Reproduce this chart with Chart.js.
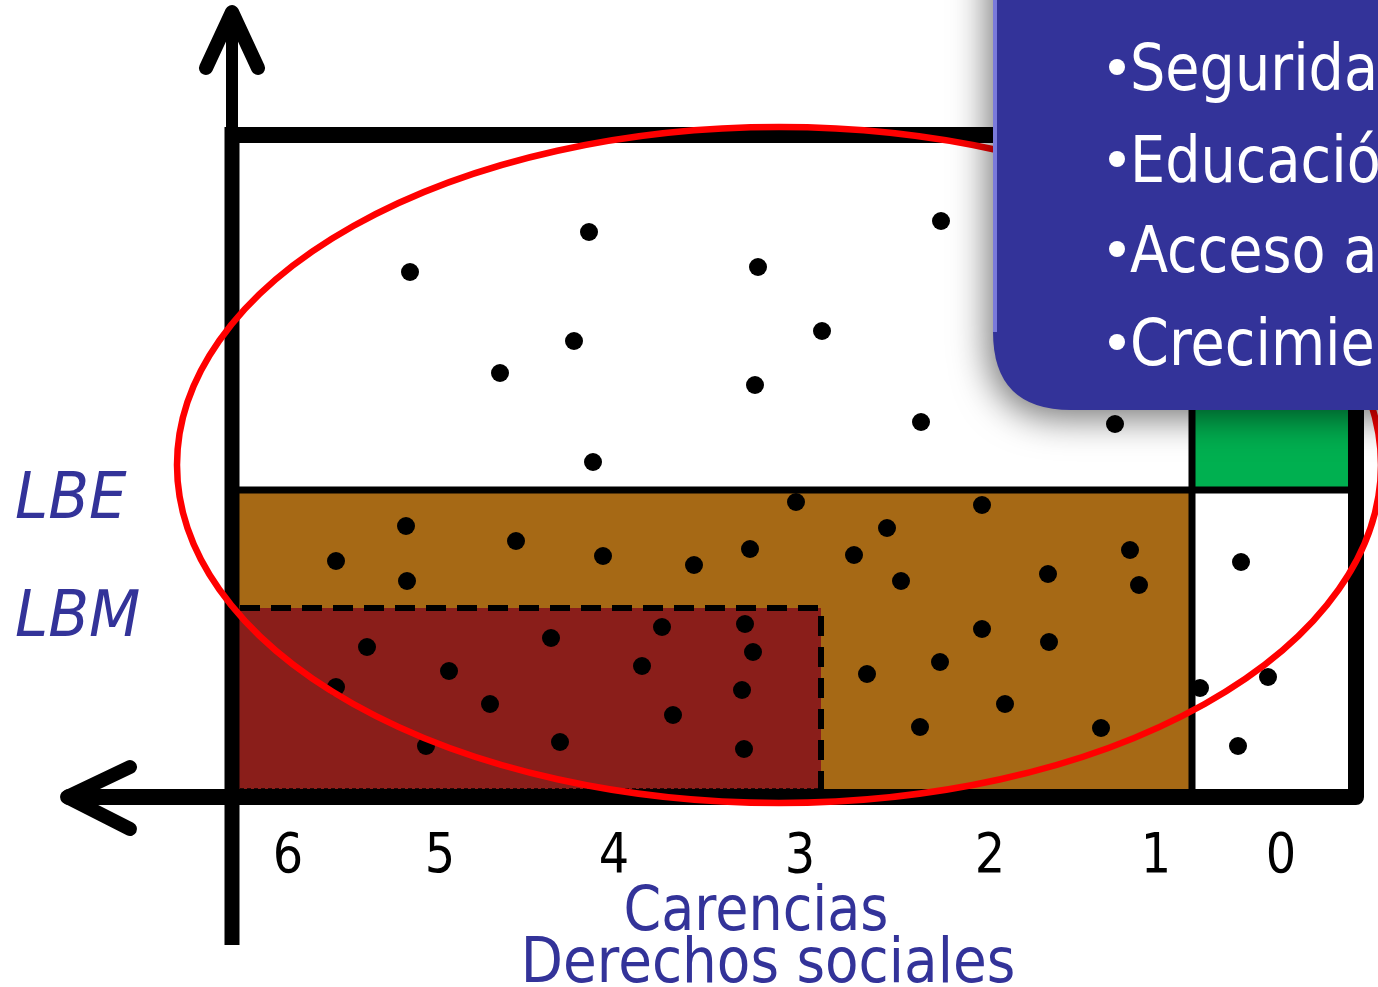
<!DOCTYPE html>
<html>
<head>
<meta charset="utf-8">
<title>Medición de la pobreza</title>
<script src="https://cdn.jsdelivr.net/npm/chart.js@4.4.1/dist/chart.umd.min.js"></script>
<style>
html,body{margin:0;padding:0;background:#fff;overflow:hidden;}
</style>
</head>
<body>
<canvas id="pobrezaChart" width="1378" height="987"></canvas>
<script>
// --- datos del diagrama (x: posición en el eje de carencias, y: ingreso) ---
const carenciaLabels = ['6', '5', '4', '3', '2', '1', '0'];
const carenciaTickPos = [5.6, 20.8, 38.2, 56.8, 75.8, 92.4, 104.9];
const lineaLabels = ['LBE', 'LBM'];
const lineaValores = [30.7, 18.9];
const umbralCarencias = 96.0;      // entre 1 y 0 carencias
const umbralExtrema = 58.9;        // 3 carencias
const xRange = [0, 112.4];
const yRange = [0, 66.2];
const axisTitle = ['Carencias', 'Derechos sociales'];
const boxItems = ['Seguridad', 'Educación', 'Acceso a', 'Crecimiento'];

const vulnerablesCarencias = [[35.7,56.5],[17.8,52.5],[52.6,53.0],[70.9,57.6],[59.0,46.6],[34.2,45.6],[26.8,42.4],[52.3,41.2],[68.9,37.5],[88.3,37.3],[36.1,33.5]];
const pobrezaModerada = [[56.4,29.5],[75.0,29.2],[17.4,27.1],[65.5,26.9],[28.4,25.6],[10.4,23.6],[37.1,24.1],[46.2,23.2],[51.8,24.8],[62.2,24.2],[89.8,24.7],[17.5,21.6],[66.9,21.6],[81.6,22.3],[90.7,21.2],[75.0,16.8],[81.7,15.5],[63.5,12.3],[70.8,13.5],[77.3,9.3],[68.8,7.0],[86.9,6.9]];
const pobrezaExtrema = [[13.5,15.0],[10.4,11.0],[19.4,5.1],[21.7,12.6],[25.8,9.3],[31.9,15.9],[32.8,5.5],[41.0,13.1],[43.0,17.0],[44.1,8.2],[51.3,17.3],[52.1,14.5],[51.0,10.7],[51.2,4.8]];
const vulnerablesIngreso = [[100.9,23.5],[103.6,12.0],[100.6,5.1],[96.8,10.9]];

const toPoints = arr => arr.map(p => ({ x: p[0], y: p[1] }));

(function(){
	const FONT = '"DejaVu Sans", Verdana, sans-serif';
	const BLUE = '#333399';

	function drawText(ctx, text, x, y, opts){
		ctx.save();
		ctx.translate(x, y);
		ctx.scale(opts.sx || 0.87, 1);
		ctx.font = opts.font;
		ctx.fillStyle = opts.color;
		ctx.textAlign = opts.align || 'left';
		ctx.textBaseline = opts.baseline || 'alphabetic';
		ctx.fillText(text, 0, 0);
		ctx.restore();
	}

	function line(ctx, pts, width, cap){
		ctx.beginPath();
		ctx.moveTo(pts[0][0], pts[0][1]);
		for (let i = 1; i < pts.length; i++) ctx.lineTo(pts[i][0], pts[i][1]);
		ctx.lineWidth = width;
		ctx.lineCap = cap || 'butt';
		ctx.lineJoin = 'round';
		ctx.strokeStyle = '#000';
		ctx.stroke();
	}

	// regiones, marco y ejes (debajo de los puntos)
	const diagramPlugin = {
		id: 'diagram',
		beforeDatasetsDraw(chart){
			const { ctx, scales: { x, y } } = chart;
			const px = v => x.getPixelForValue(v);
			const py = v => y.getPixelForValue(v);
			const [x0, x1] = xRange, [y0, y1] = yRange;
			ctx.save();

			// pobreza moderada
			ctx.fillStyle = '#A66915';
			ctx.fillRect(px(x0), py(lineaValores[0]), px(umbralCarencias) - px(x0), py(y0) - py(lineaValores[0]));
			// pobreza extrema
			ctx.fillStyle = '#8A1E1A';
			ctx.fillRect(px(x0), py(lineaValores[1]), px(umbralExtrema) - px(x0), py(y0) - py(lineaValores[1]));
			// no pobre y no vulnerable
			ctx.fillStyle = '#00B050';
			ctx.fillRect(px(umbralCarencias), py(y1), px(x1) - px(umbralCarencias), py(lineaValores[0]) - py(y1));

			// borde punteado de pobreza extrema
			ctx.setLineDash([20, 11]);
			line(ctx, [[px(x0 + 0.8), py(lineaValores[1])], [px(umbralExtrema), py(lineaValores[1])], [px(umbralExtrema), py(y0 + 0.8)]], 6);
			ctx.setLineDash([4, 3]);
			line(ctx, [[px(x0 + 0.8), py(y0 + 0.8)], [px(umbralExtrema), py(y0 + 0.8)]], 1.5);
			ctx.setLineDash([]);

			// líneas LBE y umbral de carencias
			line(ctx, [[px(x0), py(lineaValores[0])], [px(x1), py(lineaValores[0])]], 7);
			line(ctx, [[px(umbralCarencias), py(y0)], [px(umbralCarencias), py(y1)]], 7);

			// marco superior y derecho + eje horizontal
			line(ctx, [[px(x0), py(y1)], [px(x1), py(y1)]], 16);
			line(ctx, [[px(x1), py(y1) - 8], [px(x1), py(y0)], [px(-16.3), py(y0)]], 16, 'round');
			// eje vertical
			line(ctx, [[px(x0), py(-14.8)], [px(x0), py(y1) - 8]], 15);
			line(ctx, [[px(x0), py(y1)], [px(x0), py(78.3)]], 12);
			// flechas
			line(ctx, [[px(-2.6), py(72.9)], [px(x0), py(78.5)], [px(2.6), py(72.9)]], 14, 'round');
			line(ctx, [[px(-10.2), py(3.0)], [px(-16.5), py(y0)], [px(-10.2), py(-3.2)]], 14, 'round');

			ctx.restore();
		},
		afterDatasetsDraw(chart){
			const { ctx, scales: { x, y } } = chart;
			const cx = x.getPixelForValue(54.7), cy = y.getPixelForValue(33.2);
			const rx = x.getPixelForValue(54.7 + 60.2) - cx;
			const ry = y.getPixelForValue(33.2 - 33.8) - cy;
			ctx.save();
			ctx.beginPath();
			ctx.ellipse(cx, cy, rx, ry, 0, 0, Math.PI * 2);
			ctx.lineWidth = 6.5;
			ctx.strokeStyle = '#FF0000';
			ctx.stroke();
			ctx.restore();
		},
		afterDraw(chart){
			const { ctx, scales: { x, y } } = chart;
			const px = v => x.getPixelForValue(v);
			const py = v => y.getPixelForValue(v);

			// etiquetas del eje de carencias
			carenciaLabels.forEach((t, i) => {
				drawText(ctx, t, px(carenciaTickPos[i]), py(y.min) + 75, { font: '55px ' + FONT, color: '#000', align: 'center' });
			});
			drawText(ctx, axisTitle[0], (px(xRange[0]) + px(xRange[1])) / 2 - 38, py(y.min) + 133, { font: '62px ' + FONT, color: BLUE, align: 'center' });
			drawText(ctx, axisTitle[1], (px(xRange[0]) + px(xRange[1])) / 2 - 26, py(y.min) + 185, { font: '62px ' + FONT, color: BLUE, align: 'center', sx: 0.885 });

			// líneas de bienestar
			lineaLabels.forEach((t, i) => {
				drawText(ctx, t, 15, py(lineaValores[i]) + 28, { font: 'italic 64px ' + FONT, color: BLUE, sx: 0.93 });
			});

			// recuadro azul
			const left = px(76.1), bottom = py(38.7), r = 78;
			ctx.save();
			ctx.beginPath();
			ctx.moveTo(left, -60);
			ctx.lineTo(left, bottom - r);
			ctx.quadraticCurveTo(left, bottom, left + r, bottom);
			ctx.lineTo(chart.width + 60, bottom);
			ctx.lineTo(chart.width + 60, -60);
			ctx.closePath();
			ctx.shadowColor = 'rgba(0,0,0,0.55)';
			ctx.shadowBlur = 36;
			ctx.shadowOffsetX = -5;
			ctx.shadowOffsetY = 8;
			ctx.fillStyle = BLUE;
			ctx.fill();
			ctx.shadowColor = 'transparent';
			ctx.beginPath();
			ctx.moveTo(left + 2, 0);
			ctx.lineTo(left + 2, bottom - r);
			ctx.lineWidth = 4;
			ctx.strokeStyle = 'rgba(130,130,225,0.9)';
			ctx.stroke();
			ctx.restore();

			const rows = [70.7, 61.5, 52.5, 43.2];
			boxItems.forEach((t, i) => {
				const bx = px(87.6), by = py(rows[i]);
				// viñeta
				ctx.save();
				ctx.beginPath();
				ctx.arc(bx + 9, by - 23, 8, 0, Math.PI * 2);
				ctx.fillStyle = '#fff';
				ctx.fill();
				ctx.restore();
				drawText(ctx, t, bx + 22, by, { font: '64px ' + FONT, color: '#fff' });
			});
		}
	};

	function initChart(){
		const canvas = document.getElementById('pobrezaChart');
		new Chart(canvas.getContext('2d'), {
			type: 'scatter',
			data: {
				datasets: [
					{ label: 'Vulnerables por carencias', data: toPoints(vulnerablesCarencias) },
					{ label: 'Pobreza moderada', data: toPoints(pobrezaModerada) },
					{ label: 'Pobreza extrema', data: toPoints(pobrezaExtrema) },
					{ label: 'Vulnerables por ingreso', data: toPoints(vulnerablesIngreso) }
				]
			},
			options: {
				responsive: false,
				animation: false,
				layout: { padding: { left: 232, right: 22, top: 135, bottom: 190 } },
				elements: { point: { radius: 9, hoverRadius: 9, backgroundColor: '#000', borderWidth: 0 } },
				plugins: { legend: { display: false }, tooltip: { enabled: false } },
				scales: {
					x: { type: 'linear', display: false, min: xRange[0], max: xRange[1] },
					y: { type: 'linear', display: false, min: yRange[0], max: yRange[1] }
				}
			},
			plugins: [diagramPlugin]
		});
	}

	if (document.readyState === 'loading') {
		document.addEventListener('DOMContentLoaded', initChart);
	} else {
		initChart();
	}
})();
</script>
</body>
</html>
